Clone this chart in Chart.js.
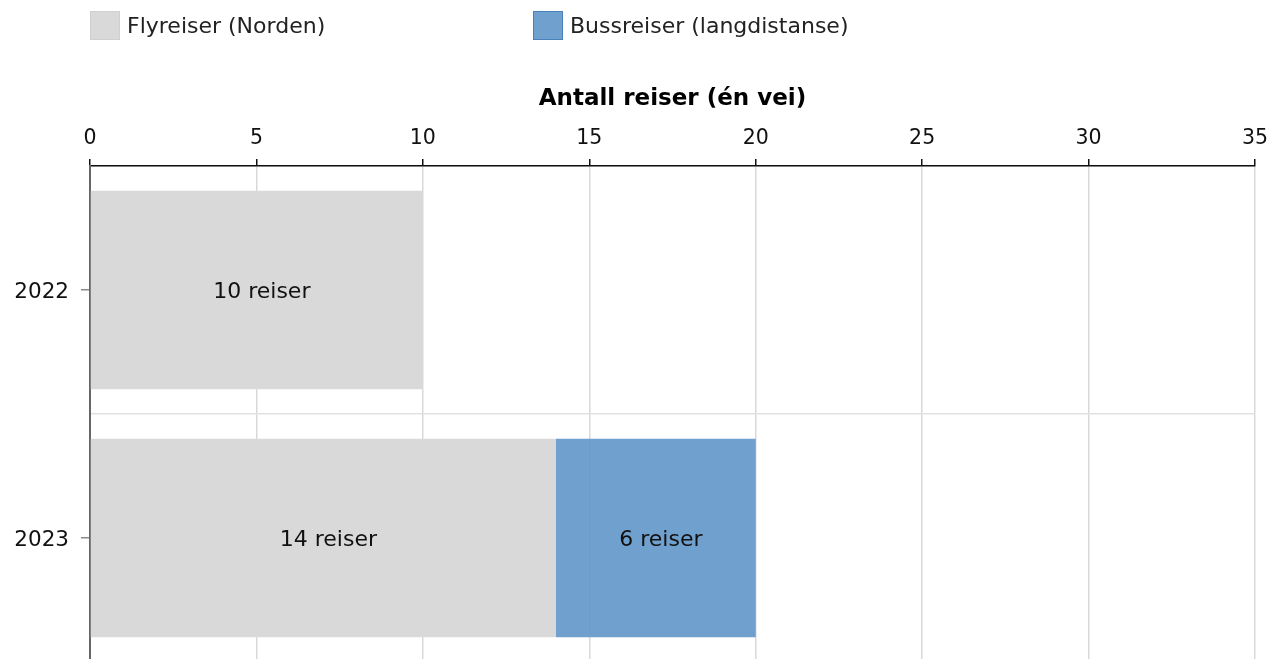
<!DOCTYPE html>
<html>
<head>
<meta charset="utf-8">
<script src="https://cdn.jsdelivr.net/npm/chart.js@4.4.1/dist/chart.umd.min.js"></script>
<style>
  html, body { margin: 0; padding: 0; overflow: hidden; background: #fff; }
  #wrap { position: relative; width: 1283px; height: 662px; }
  #chart { display: block; }
  .legend-item { position: absolute; top: 11px; height: 29px; display: flex; align-items: center;
    font-family: "DejaVu Sans", Verdana, sans-serif; font-size: 22px; color: #222; }
  .legend-box { width: 28px; height: 27px; margin-right: 7px; box-sizing: content-box; }
</style>
</head>
<body>
<div id="wrap">
  <div id="legend"></div>
  <canvas id="chart" width="1283" height="662"></canvas>
</div>
<script>
  // data
  const years = ['2022', '2023'];
  const flyreiser = [10, 14];
  const bussreiser = [null, 6];
  const seriesNames = ['Flyreiser (Norden)', 'Bussreiser (langdistanse)'];
  const axisTitle = 'Antall reiser (én vei)';
  const xMax = 35;
  const xStep = 5;

  const FONT = '"DejaVu Sans", Verdana, sans-serif';
  const colors = [
    { fill: '#d9d9d9', border: '#cfcfcf' },
    { fill: 'rgba(100, 152, 201, 0.92)', border: '#4a80bb' }
  ];

  // html legend (items sit far apart in the reference)
  const legendLeft = [90, 533];
  document.getElementById('legend').innerHTML = seriesNames.map((name, i) => `
    <div class="legend-item" style="left:${legendLeft[i]}px;">
      <span class="legend-box" style="background:${colors[i].fill}; border:1px solid ${colors[i].border};"></span>
      <span>${name}</span>
    </div>`).join('');

  const barLabels = {
    id: 'barLabels',
    afterDraw(chart) {
      const ctx = chart.ctx;
      ctx.save();
      ctx.font = `22px ${FONT}`;
      ctx.fillStyle = '#111';
      ctx.textAlign = 'center';
      ctx.textBaseline = 'middle';
      chart.data.datasets.forEach((ds, i) => {
        chart.getDatasetMeta(i).data.forEach((bar, j) => {
          const v = ds.data[j];
          if (!v) return;
          const p = bar.getProps(['x', 'y', 'base'], true);
          ctx.fillText(`${v} reiser`, (p.x + p.base) / 2 + 5, p.y + 2);
        });
      });
      ctx.restore();
    }
  };

  const LEGEND_SPACE = 60;

  new Chart(document.getElementById('chart'), {
    type: 'bar',
    data: {
      labels: years,
      datasets: [
        {
          label: seriesNames[0],
          data: flyreiser,
          backgroundColor: colors[0].fill,
          borderWidth: 0,
          barPercentage: 0.8,
          categoryPercentage: 1
        },
        {
          label: seriesNames[1],
          data: bussreiser,
          backgroundColor: colors[1].fill,
          borderWidth: 0,
          barPercentage: 0.8,
          categoryPercentage: 1
        }
      ]
    },
    options: {
      indexAxis: 'y',
      animation: false,
      responsive: false,
      layout: { padding: { top: LEGEND_SPACE, right: 28, left: 0, bottom: 0 } },
      plugins: {
        legend: { display: false },
        tooltip: { enabled: false }
      },
      scales: {
        x: {
          position: 'top',
          stacked: true,
          min: 0,
          max: xMax,
          z: 1,
          ticks: { stepSize: xStep, color: '#111', font: { family: FONT, size: 20.5 }, padding: 8 },
          grid: {
            color: (c) => c.index === 0 ? 'rgba(0,0,0,0)' : '#d9d9d9',
            lineWidth: 1.5,
            tickColor: '#111',
            tickLength: 7
          },
          border: { color: '#111', width: 1.5 },
          title: {
            display: true,
            text: axisTitle,
            color: '#000',
            font: { family: FONT, size: 23, weight: 'bold' },
            padding: { top: 25, bottom: 0 }
          },
          afterFit(scale) { scale.height = 166 - LEGEND_SPACE; }
        },
        y: {
          stacked: true,
          ticks: { color: '#111', font: { family: FONT, size: 21.5 }, padding: 12, labelOffset: 2 },
          grid: { offset: false, drawOnChartArea: false, tickColor: '#8a8a8a', tickLength: 9, lineWidth: 1.5 },
          border: { color: '#666', width: 2 },
          afterFit(scale) {
            scale.width = 90;
            scale.paddingTop = 0;
            scale.paddingBottom = 0;
          }
        },
        ySep: {
          type: 'category',
          labels: years,
          position: 'left',
          offset: true,
          ticks: { display: false },
          grid: { offset: true, drawTicks: false, drawOnChartArea: true, color: '#e2e2e2', lineWidth: 1.5 },
          border: { display: false },
          afterFit(scale) { scale.width = 0; }
        }
      }
    },
    plugins: [barLabels]
  });
</script>
</body>
</html>
